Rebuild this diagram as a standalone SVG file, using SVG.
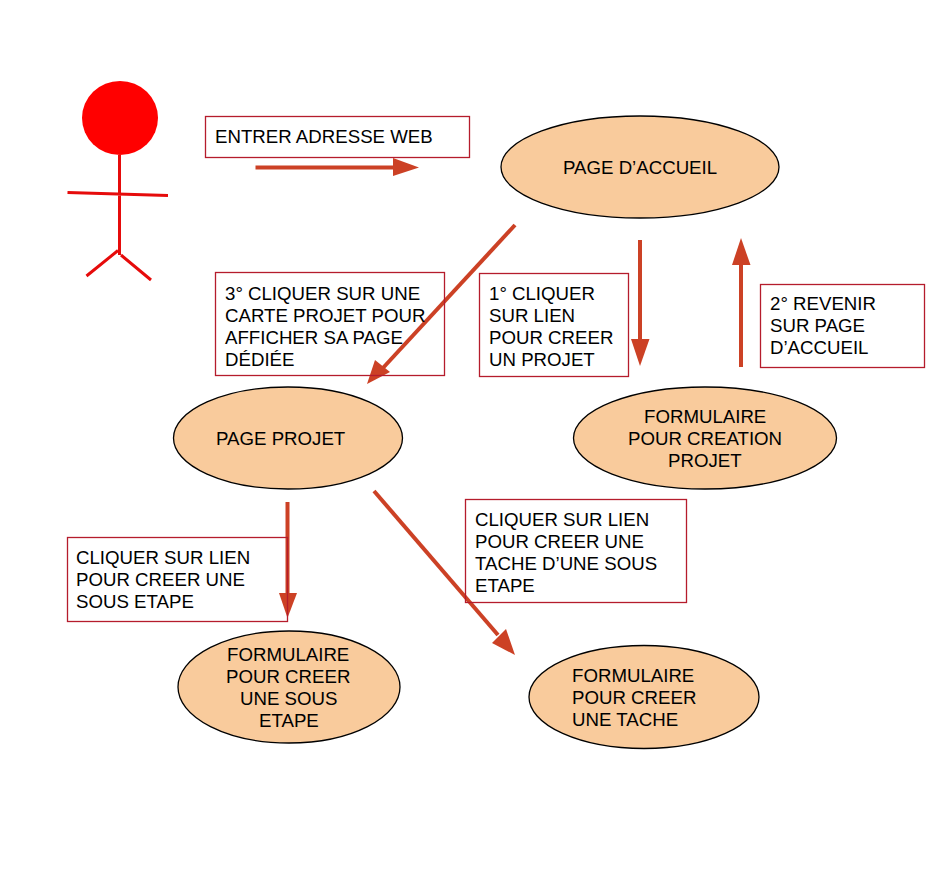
<svg xmlns="http://www.w3.org/2000/svg" width="939" height="879" viewBox="0 0 939 879">
<style>
text{font-family:"Liberation Sans",Arial,sans-serif;font-size:18.67px;fill:#000}
.e{fill:#f9cb9c;stroke:#000;stroke-width:1.3}
.b{fill:none;stroke:#b51c2c;stroke-width:1.3}
.c{stroke:#cc4125;stroke-width:4;fill:none}
.h{fill:#cc4125}
.a{stroke:#e60b0b;stroke-width:3;fill:none}
</style>
<rect width="939" height="879" fill="#fff"/>
<g id="actor">
<ellipse cx="120" cy="118" rx="38" ry="37" fill="#ff0000"/>
<path class="a" d="M119.500 155V255M67.500 192.500L168 195.500M86.500 276L118 250.500M121 255L151 280"/>
</g>
<g id="node-accueil"><ellipse class="e" cx="640" cy="167" rx="139" ry="51"/><text x="563" y="174">PAGE D’ACCUEIL</text></g>
<g id="node-projet"><ellipse class="e" cx="288" cy="438" rx="114.500" ry="51"/><text x="216" y="445">PAGE PROJET</text></g>
<g id="node-form-projet"><ellipse class="e" cx="705" cy="438" rx="131.500" ry="51"/><text x="644" y="423">FORMULAIRE</text><text x="628" y="445">POUR CREATION</text><text x="668" y="467">PROJET</text></g>
<g id="node-form-etape"><ellipse class="e" cx="289" cy="687" rx="111" ry="56"/><text x="227" y="661">FORMULAIRE</text><text x="226" y="683">POUR CREER</text><text x="240" y="705">UNE SOUS</text><text x="259" y="727">ETAPE</text></g>
<g id="node-form-tache"><ellipse class="e" cx="644" cy="697" rx="115" ry="51.500"/><text x="572" y="682">FORMULAIRE</text><text x="572" y="704">POUR CREER</text><text x="572" y="726">UNE TACHE</text></g>
<g id="connectors">
<path class="c" d="M255.500 167.500H396"/><path class="h" d="M393 158L419 167.500L393 176Z"/>
<path class="c" d="M515 225L382 369"/><path class="h" d="M367 384L375 360L390 372Z"/>
<path class="c" d="M640 240V342"/><path class="h" d="M631 339H649.500L640 366Z"/>
<path class="c" d="M741 367V262"/><path class="h" d="M732 265H750.500L741 238Z"/>
<path class="c" d="M287.500 502V596"/><path class="h" d="M279 593H297L287.500 618Z"/>
<path class="c" d="M374 491L498 635"/><path class="h" d="M515 655L492 643L506 629Z"/>
</g>
<g id="label-adresse"><rect class="b" x="205.500" y="116.500" width="264" height="41"/><text x="215" y="143">ENTRER ADRESSE WEB</text></g>
<g id="label-carte"><rect class="b" x="215.500" y="272.500" width="229" height="103"/><text x="225" y="300">3° CLIQUER SUR UNE</text><text x="225" y="322">CARTE PROJET POUR</text><text x="225" y="344">AFFICHER SA PAGE</text><text x="225" y="366">DÉDIÉE</text></g>
<g id="label-creer-projet"><rect class="b" x="479.500" y="273.500" width="149" height="103"/><text x="489" y="300">1° CLIQUER</text><text x="489" y="322">SUR LIEN</text><text x="489" y="344">POUR CREER</text><text x="489" y="366">UN PROJET</text></g>
<g id="label-revenir"><rect class="b" x="760.500" y="284.500" width="164" height="83"/><text x="770" y="310">2° REVENIR</text><text x="770" y="332">SUR PAGE</text><text x="770" y="354">D’ACCUEIL</text></g>
<g id="label-sous-etape"><rect class="b" x="67.500" y="537.500" width="220" height="84"/><text x="76" y="564">CLIQUER SUR LIEN</text><text x="76" y="586">POUR CREER UNE</text><text x="76" y="608">SOUS ETAPE</text></g>
<g id="label-tache"><rect class="b" x="465.500" y="499.500" width="221" height="103"/><text x="475" y="526">CLIQUER SUR LIEN</text><text x="475" y="548">POUR CREER UNE</text><text x="475" y="570">TACHE D’UNE SOUS</text><text x="475" y="592">ETAPE</text></g>
</svg>
